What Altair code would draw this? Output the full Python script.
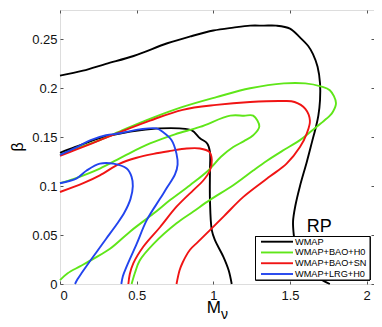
import altair as alt
import pandas as pd

# ---- data (M_nu, beta) ----
series_names = ["WMAP", "WMAP+BAO+H0", "WMAP+BAO+SN", "WMAP+LRG+H0"]
series_colors = ["#000000", "#5fe619", "#f01414", "#2244ee"]

wmap_outer_x = [0, 0.15, 0.30, 0.48, 0.70, 0.85, 1.0, 1.13, 1.24, 1.33, 1.41, 1.50, 1.565, 1.62, 1.65, 1.68, 1.696, 1.696, 1.685, 1.67, 1.645, 1.61, 1.565, 1.535, 1.52, 1.525, 1.54, 1.58, 1.64, 1.70, 1.76]
wmap_outer_y = [0.213, 0.218, 0.225, 0.233, 0.246, 0.253, 0.259, 0.262, 0.264, 0.264, 0.264, 0.261, 0.252, 0.243, 0.235, 0.222, 0.205, 0.188, 0.172, 0.161, 0.146, 0.125, 0.100, 0.080, 0.064, 0.050, 0.035, 0.022, 0.012, 0.005, 0.0]

wmap_inner_x = [0, 0.10, 0.26, 0.40, 0.52, 0.65, 0.78, 0.86, 0.913, 0.96, 0.978, 0.978, 0.978, 0.99, 1.01, 1.065, 1.10, 1.12]
wmap_inner_y = [0.134, 0.140, 0.149, 0.154, 0.157, 0.159, 0.159, 0.157, 0.149, 0.1436, 0.135, 0.116, 0.086, 0.055, 0.045, 0.028, 0.014, 0.0]

bao_h0_outer_x = [0, 0.1, 0.26, 0.42, 0.59, 0.80, 1.02, 1.24, 1.46, 1.60, 1.70, 1.76, 1.80, 1.78, 1.76, 1.70, 1.63, 1.565, 1.45, 1.35, 1.26, 1.13, 0.978, 0.87, 0.76, 0.61, 0.52, 0.49, 0.467]
bao_h0_outer_y = [0.132, 0.138, 0.147, 0.158, 0.169, 0.181, 0.191, 0.200, 0.205, 0.205, 0.202, 0.198, 0.185, 0.176, 0.172, 0.164, 0.155, 0.147, 0.136, 0.126, 0.116, 0.101, 0.086, 0.074, 0.062, 0.041, 0.024, 0.012, 0.0]

bao_h0_inner_x = [0, 0.1, 0.26, 0.42, 0.587, 0.75, 0.913, 1.11, 1.20, 1.26, 1.30, 1.26, 1.20, 1.13, 1.05, 0.967, 0.848, 0.72, 0.61, 0.46, 0.326, 0.22, 0.13, 0.05, 0]
bao_h0_inner_y = [0.103, 0.108, 0.118, 0.131, 0.1436, 0.153, 0.1605, 0.172, 0.172, 0.172, 0.161, 0.152, 0.146, 0.140, 0.130, 0.116, 0.101, 0.086, 0.072, 0.054, 0.036, 0.026, 0.018, 0.011, 0.004]

bao_sn_outer_x = [0, 0.1, 0.26, 0.42, 0.587, 0.80, 1.02, 1.24, 1.46, 1.53, 1.60, 1.63, 1.61, 1.565, 1.478, 1.37, 1.196, 1.08, 0.978, 0.90, 0.848, 0.80, 0.78, 0.76]
bao_sn_outer_y = [0.131, 0.137, 0.147, 0.157, 0.167, 0.178, 0.183, 0.186, 0.187, 0.186, 0.179, 0.167, 0.154, 0.140, 0.123, 0.110, 0.089, 0.071, 0.055, 0.043, 0.035, 0.022, 0.014, 0.0]

bao_sn_inner_x = [0, 0.152, 0.26, 0.39, 0.50, 0.61, 0.72, 0.826, 0.913, 0.974, 0.99, 0.978, 0.93, 0.87, 0.76, 0.652, 0.543, 0.478, 0.455, 0.446]
bao_sn_inner_y = [0.094, 0.103, 0.111, 0.123, 0.129, 0.133, 0.136, 0.1385, 0.1385, 0.135, 0.127, 0.116, 0.105, 0.096, 0.079, 0.058, 0.038, 0.021, 0.010, 0.0]

lrg_outer_x = [0, 0.1, 0.2, 0.3, 0.39, 0.52, 0.63, 0.674, 0.728, 0.76, 0.767, 0.75, 0.70, 0.652, 0.565, 0.50, 0.435, 0.41, 0.40]
lrg_outer_y = [0.132, 0.139, 0.147, 0.152, 0.154, 0.158, 0.159, 0.155, 0.147, 0.133, 0.122, 0.112, 0.099, 0.087, 0.065, 0.041, 0.018, 0.008, 0.0]

lrg_inner_x = [0, 0.109, 0.174, 0.26, 0.348, 0.435, 0.467, 0.475, 0.46, 0.42, 0.37, 0.30, 0.24, 0.18, 0.14, 0.115, 0.098]
lrg_inner_y = [0.103, 0.108, 0.116, 0.123, 0.123, 0.118, 0.1095, 0.100, 0.087, 0.073, 0.061, 0.046, 0.033, 0.020, 0.011, 0.005, 0.0]

annot_text = ["RP"]
annot_x = [1.61]
annot_y = [0.053]

x_ticks = [0, 0.5, 1, 1.5, 2]
y_ticks = [0, 0.05, 0.1, 0.15, 0.2, 0.25]

# ---- build tables ----
contours = [
    ("WMAP", "wmap_outer", wmap_outer_x, wmap_outer_y),
    ("WMAP", "wmap_inner", wmap_inner_x, wmap_inner_y),
    ("WMAP+BAO+H0", "bh_outer", bao_h0_outer_x, bao_h0_outer_y),
    ("WMAP+BAO+H0", "bh_inner", bao_h0_inner_x, bao_h0_inner_y),
    ("WMAP+BAO+SN", "bs_outer", bao_sn_outer_x, bao_sn_outer_y),
    ("WMAP+BAO+SN", "bs_inner", bao_sn_inner_x, bao_sn_inner_y),
    ("WMAP+LRG+H0", "lrg_outer", lrg_outer_x, lrg_outer_y),
    ("WMAP+LRG+H0", "lrg_inner", lrg_inner_x, lrg_inner_y),
]
rows = []
for s, cid, xs, ys in contours:
    for i, (xv, yv) in enumerate(zip(xs, ys)):
        rows.append({"series": s, "contour": cid, "idx": i, "m": xv, "b": yv})
df = pd.DataFrame(rows)

leg_df = pd.DataFrame({"series": series_names, "row": list(range(len(series_names)))})
ann_df = pd.DataFrame({"t": annot_text, "m": annot_x, "b": annot_y})

FONT = "Liberation Sans"
W, H = 314, 274
xscale = alt.Scale(domain=[0, 2.048], nice=False, zero=False)
yscale = alt.Scale(domain=[0, 0.28], nice=False, zero=False)
color = alt.Color("series:N", scale=alt.Scale(domain=series_names, range=series_colors), legend=None)

tick_common = dict(domain=False, grid=False, tickSize=3, offset=-3, tickColor="#555",
                   tickWidth=1, labelFont=FONT, labelFontSize=13, labelColor="#111",
                   format="~g", title=None)

lines = alt.Chart(df).mark_line(strokeWidth=1.9, interpolate="catmull-rom").encode(
    x=alt.X("m:Q", scale=xscale, axis=alt.Axis(orient="bottom", values=x_ticks, labelPadding=5, **tick_common)),
    y=alt.Y("b:Q", scale=yscale, axis=alt.Axis(orient="left", values=y_ticks, labelPadding=3, **tick_common)),
    color=color,
    detail="contour:N",
    order="idx:Q",
)

box_common = dict(domain=False, grid=False, tickSize=3, offset=-3, tickColor="#555",
                  tickWidth=1, labels=False, title=None)
rp = alt.Chart(ann_df).mark_text(font=FONT, fontSize=18, align="left", baseline="alphabetic", color="#000").encode(
    x=alt.X("m:Q", scale=xscale, axis=alt.Axis(orient="top", values=x_ticks, **box_common)),
    y=alt.Y("b:Q", scale=yscale, axis=alt.Axis(orient="right", values=y_ticks, **box_common)),
    text="t:N",
)

rowscale = alt.Scale(domain=[0, 3], range=[231.7, 264])
leg_box = alt.Chart(leg_df).mark_rect(fill="white", stroke="#000", strokeWidth=1).encode(
    x=alt.value(195.5), x2=alt.value(310), y=alt.value(226.5), y2=alt.value(270)
)
leg_lines = alt.Chart(leg_df).mark_rule(strokeWidth=1.9).encode(
    x=alt.value(201), x2=alt.value(233),
    y=alt.Y("row:Q", scale=rowscale, axis=None),
    color=color,
)
leg_text = alt.Chart(leg_df).mark_text(font=FONT, fontSize=9.2, align="left", baseline="middle", color="#000").encode(
    x=alt.value(235),
    y=alt.Y("row:Q", scale=rowscale, axis=None),
    text="series:N",
)

titles_df = pd.DataFrame({"t": ["M"]})
m_title = alt.Chart(titles_df).mark_text(font=FONT, fontSize=17, align="left", baseline="alphabetic", color="#000").encode(
    x=alt.value(146.7), y=alt.value(303), text=alt.value("M"))
nu_title = alt.Chart(titles_df).mark_text(font=FONT, fontSize=14, align="left", baseline="alphabetic", color="#000").encode(
    x=alt.value(161), y=alt.value(309), text=alt.value("ν"))
beta_title = alt.Chart(titles_df).mark_text(font=FONT, fontSize=16, align="center", baseline="alphabetic", angle=270, color="#000").encode(
    x=alt.value(-37.5), y=alt.value(137), text=alt.value("β"))

chart = alt.layer(
    lines, rp, leg_box, leg_lines, leg_text, m_title, nu_title, beta_title
).resolve_scale(
    y="independent"
).resolve_axis(
    x="independent", y="independent"
).properties(
    width=W, height=H,
    autosize=alt.AutoSizeParams(type="none"),
    padding={"left": 52, "top": 2, "right": 0, "bottom": 37},
).configure_view(
    stroke="#555", strokeWidth=1
).configure(background="white")

chart.save("out.html", embed_options={"renderer": "svg", "actions": False})
